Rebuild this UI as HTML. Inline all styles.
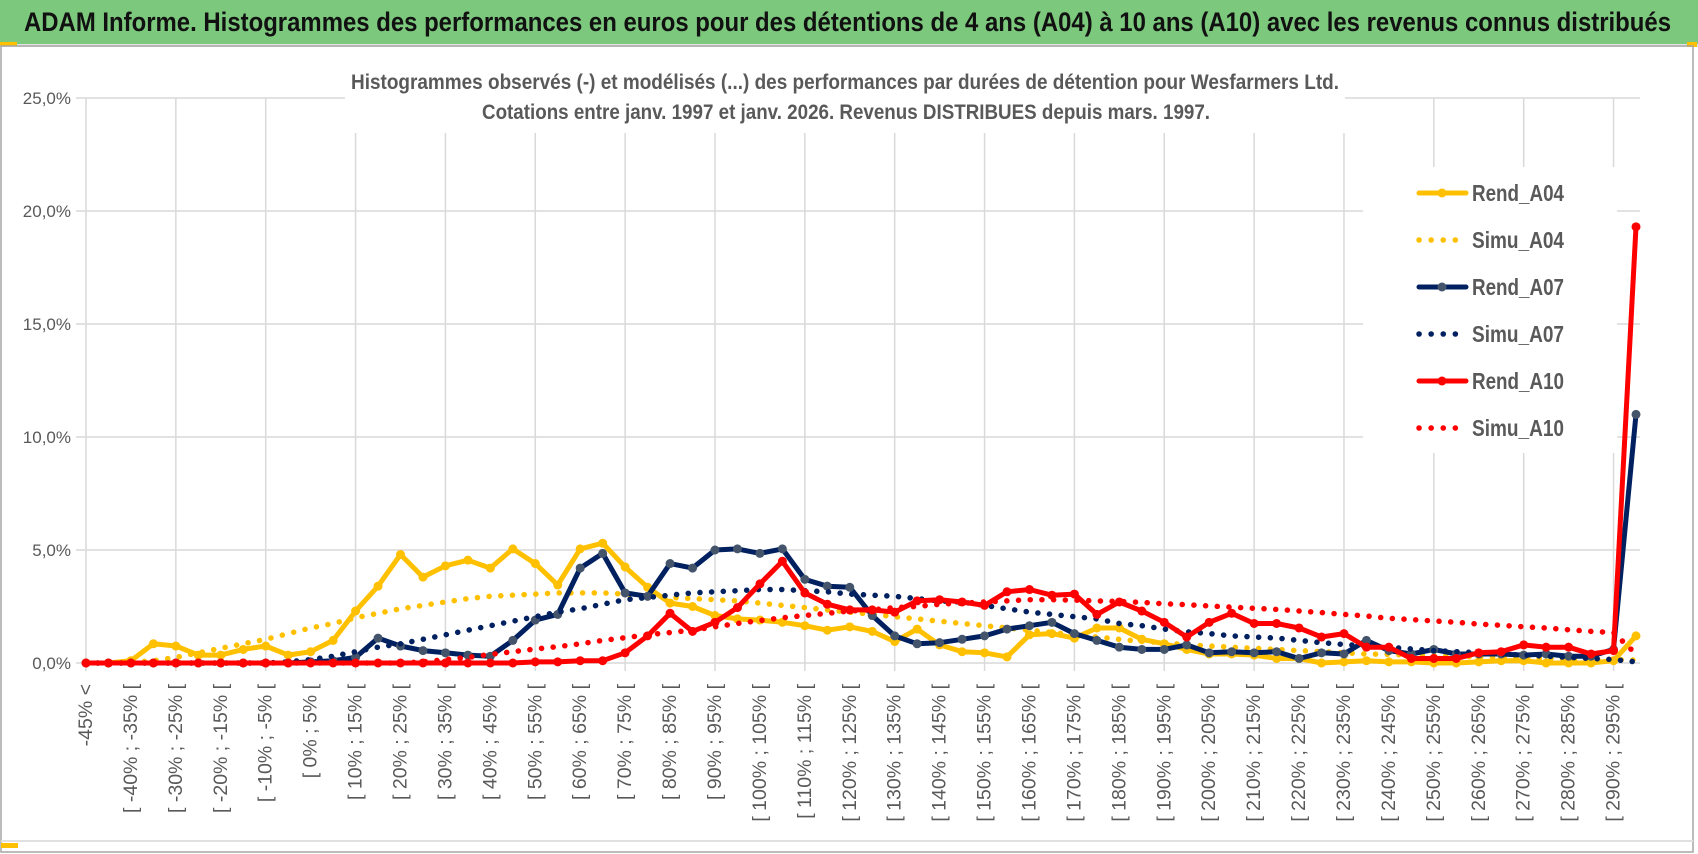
<!DOCTYPE html>
<html><head><meta charset="utf-8"><style>
html,body{margin:0;padding:0;background:#fff;}
svg{display:block;font-family:"Liberation Sans Narrow","Liberation Sans",sans-serif;}
</style></head><body>
<svg id="chart" width="1698" height="854" viewBox="0 0 1698 854" xmlns="http://www.w3.org/2000/svg">
<rect x="0" y="0" width="1698" height="854" fill="#fff"/>
<rect x="0" y="0" width="1698" height="44" fill="#7cc87d"/>
<text x="24" y="31" font-size="27" font-weight="bold" fill="#111" textLength="1647" lengthAdjust="spacingAndGlyphs">ADAM Informe. Histogrammes des performances en euros pour des détentions de 4 ans (A04) à 10 ans (A10) avec les revenus connus distribués</text>
<rect x="0" y="44" width="1698" height="3" fill="#e3e3e3"/>
<rect x="0" y="42" width="17" height="4" fill="#ffc000"/>
<rect x="1687" y="42" width="10" height="5" fill="#ffc000"/>
<rect x="1" y="46" width="1692" height="806" fill="none" stroke="#a6a6a6" stroke-width="1.5"/>
<rect x="1" y="840" width="1692" height="2" fill="#e0e0e0"/>
<rect x="1" y="843" width="17" height="5" fill="#ffc000"/>
<g id="grid"></g>
<g id="xlabels"></g>
<g id="ylabels"></g>
<rect x="345" y="97" width="1000" height="36" fill="#fff"/>
<rect x="1363" y="167" width="254" height="286" fill="#fff"/>
<g id="series"></g>
<text x="845" y="89" font-size="21" font-weight="bold" fill="#595959" text-anchor="middle" textLength="988" lengthAdjust="spacingAndGlyphs">Histogrammes observés (-)  et modélisés (...) des performances par durées de détention pour Wesfarmers Ltd.</text>
<text x="846" y="119" font-size="21" font-weight="bold" fill="#595959" text-anchor="middle" textLength="728" lengthAdjust="spacingAndGlyphs">Cotations entre janv. 1997 et janv. 2026. Revenus DISTRIBUES depuis mars. 1997.</text>
<g id="legend"></g>
</svg>
<script>
const categories = ["-45% <"];
for (let k = -45; k < 300; k += 5) categories.push("[ " + k + "% ; " + (k + 5) + "% [");
const yTicks = [0, 5, 10, 15, 20, 25];
const yTickLabels = ["0,0%", "5,0%", "10,0%", "15,0%", "20,0%", "25,0%"];
const seriesNames = ["Rend_A04", "Simu_A04", "Rend_A07", "Simu_A07", "Rend_A10", "Simu_A10"];
const rendA04 = [0,0,0.1,0.85,0.75,0.35,0.35,0.6,0.75,0.35,0.5,1.0,2.3,3.4,4.8,3.8,4.3,4.55,4.2,5.05,4.4,3.45,5.05,5.3,4.25,3.35,2.65,2.5,2.1,1.95,1.9,1.8,1.65,1.45,1.6,1.4,0.95,1.5,0.8,0.5,0.45,0.27,1.25,1.3,1.1,1.55,1.55,1.05,0.85,0.6,0.4,0.4,0.35,0.2,0.2,0,0.05,0.1,0.05,0.05,0,0,0.05,0.1,0.1,0,0,0,0.1,1.2];
const simuA04 = [0,0,0.02,0.1,0.25,0.45,0.65,0.85,1.05,1.3,1.55,1.75,2.0,2.2,2.4,2.55,2.7,2.85,2.95,3.0,3.05,3.1,3.1,3.1,3.05,2.95,2.9,2.85,2.8,2.75,2.65,2.55,2.45,2.35,2.25,2.15,2.05,1.95,1.85,1.75,1.65,1.55,1.45,1.35,1.25,1.15,1.05,0.95,0.9,0.8,0.75,0.7,0.65,0.6,0.55,0.5,0.45,0.4,0.38,0.35,0.32,0.3,0.27,0.25,0.22,0.2,0.18,0.16,0.15,0.13];
const rendA07 = [0,0,0,0,0,0,0,0,0,0,0.05,0.1,0.25,1.1,0.75,0.55,0.45,0.35,0.3,1.0,1.9,2.15,4.2,4.85,3.1,2.95,4.4,4.2,5.0,5.05,4.85,5.05,3.7,3.4,3.35,2.1,1.2,0.85,0.9,1.05,1.2,1.5,1.65,1.8,1.3,1.0,0.7,0.6,0.6,0.8,0.45,0.5,0.45,0.5,0.2,0.45,0.4,1.0,0.55,0.4,0.6,0.4,0.4,0.4,0.35,0.4,0.3,0.3,0.6,11.0];
const simuA07 = [0,0,0,0,0,0,0,0,0,0.05,0.15,0.3,0.5,0.7,0.85,1.05,1.25,1.45,1.65,1.85,2.05,2.25,2.4,2.6,2.8,2.9,3.0,3.1,3.15,3.2,3.25,3.25,3.2,3.15,3.05,3.0,2.95,2.85,2.75,2.7,2.55,2.4,2.25,2.15,2.05,1.95,1.75,1.65,1.5,1.38,1.3,1.2,1.15,1.1,1.0,0.9,0.82,0.75,0.7,0.62,0.55,0.5,0.45,0.4,0.35,0.3,0.25,0.2,0.15,0.05];
const rendA10 = [0,0,0,0,0,0,0,0,0,0,0,0,0,0,0,0,0,0,0,0,0.05,0.05,0.1,0.1,0.45,1.2,2.2,1.4,1.8,2.45,3.5,4.5,3.1,2.6,2.35,2.35,2.25,2.75,2.8,2.7,2.55,3.15,3.25,3.0,3.05,2.15,2.7,2.3,1.8,1.15,1.8,2.2,1.75,1.75,1.55,1.15,1.3,0.7,0.7,0.2,0.2,0.2,0.45,0.5,0.8,0.7,0.7,0.4,0.55,19.3];
const simuA10 = [0,0,0,0,0,0,0,0,0,0,0,0,0,0,0,0.05,0.15,0.25,0.38,0.5,0.62,0.72,0.85,1.0,1.12,1.25,1.35,1.45,1.6,1.75,1.88,2.0,2.1,2.2,2.3,2.35,2.45,2.5,2.6,2.65,2.7,2.75,2.8,2.8,2.78,2.75,2.72,2.68,2.62,2.58,2.52,2.47,2.42,2.37,2.3,2.23,2.15,2.08,1.98,1.92,1.86,1.8,1.72,1.67,1.6,1.55,1.47,1.4,1.35,0.4];

const NS = "http://www.w3.org/2000/svg";
const X0 = 86, XSTEP = (1636 - 86) / 69, Y0 = 663, YPER = (663 - 98) / 25;
const xPos = i => X0 + i * XSTEP;
const yPos = v => Y0 - v * YPER;
function mk(tag, attrs, parent) {
  const el = document.createElementNS(NS, tag);
  for (const k in attrs) el.setAttribute(k, attrs[k]);
  parent.appendChild(el);
  return el;
}
const grid = document.getElementById("grid");
yTicks.forEach((t, j) => {
  const l = mk("line", {x1: 76, x2: 1640, y1: yPos(t), y2: yPos(t), stroke: "#d9d9d9", "stroke-width": 1.5}, grid);
  
  
  const tx = mk("text", {x: 71, y: yPos(t) + 6, "font-size": 17, fill: "#595959", "text-anchor": "end"}, document.getElementById("ylabels"));
  tx.textContent = yTickLabels[j];
  
  
});
for (let i = 0; i < categories.length; i += 4) {
  const l = mk("line", {x1: xPos(i), x2: xPos(i), y1: yPos(25), y2: Y0 + 8, stroke: "#d9d9d9", "stroke-width": 1.5}, grid);
  
  
}
const xl = document.getElementById("xlabels");
for (let i = 0; i < categories.length; i += 2) {
  const x = xPos(i), y = 684;
  const t = mk("text", {x: x, y: y, "font-size": 19.5, fill: "#595959", "text-anchor": "end", "dominant-baseline": "central", transform: "rotate(-90 " + x + " " + y + ")", "font-family": "Liberation Sans, sans-serif"}, xl);
  t.textContent = categories[i];
  
  
}
const styles = [
  {data: rendA04, color: "#ffc000", marker: "#ffc000", dotted: false},
  {data: simuA04, color: "#ffc000", dotted: true},
  {data: rendA07, color: "#002060", marker: "#44546a", dotted: false},
  {data: simuA07, color: "#002060", dotted: true},
  {data: rendA10, color: "#ff0000", marker: "#ff0000", dotted: false},
  {data: simuA10, color: "#ff0000", dotted: true}
];
const sg = document.getElementById("series");
styles.forEach((s, si) => {
  const g = mk("g", {}, sg);
  
  
  const pts = s.data.map((v, i) => xPos(i).toFixed(1) + "," + yPos(v).toFixed(1)).join(" ");
  const attrs = {points: pts, fill: "none", stroke: s.color, "stroke-width": s.dotted ? 5.5 : 5, "stroke-linejoin": "round", "stroke-linecap": "round"};
  if (s.dotted) attrs["stroke-dasharray"] = "0.1 11.6";
  const pl = mk("polyline", attrs, g);
  
  
  if (!s.dotted) {
    s.data.forEach((v, i) => {
      const c = mk("circle", {cx: xPos(i), cy: yPos(v), r: 4.5, fill: s.marker}, g);
      
      
    });
  }
});
const lg = document.getElementById("legend");
styles.forEach((s, si) => {
  const y = 193 + si * 47;
  const e = mk("g", {}, lg);
  
  
  const attrs = {x1: 1419, x2: 1466, y1: y, y2: y, stroke: s.color, "stroke-width": s.dotted ? 5.5 : 5, "stroke-linecap": "round"};
  if (s.dotted) { attrs["stroke-dasharray"] = "0.1 12"; attrs.x2 = 1457; }
  mk("line", attrs, e);
  if (!s.dotted) mk("circle", {cx: 1442, cy: y, r: 4.5, fill: s.marker}, e);
  const t = mk("text", {x: 1472, y: y + 8, "font-size": 23, "font-weight": "bold", fill: "#595959", textLength: 92, lengthAdjust: "spacingAndGlyphs"}, e);
  t.textContent = seriesNames[si];
});
</script>
</body></html>
